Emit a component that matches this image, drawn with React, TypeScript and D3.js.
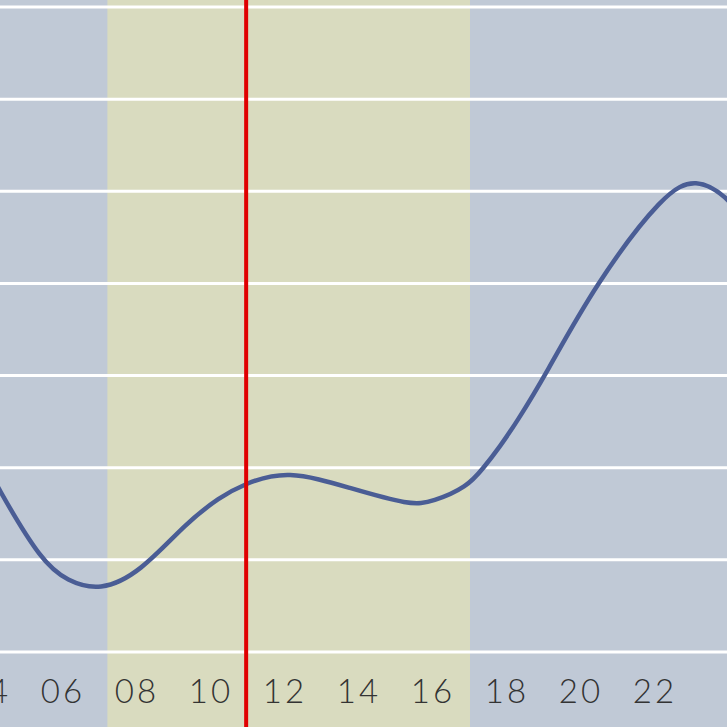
import React from "react";
import * as d3 from "d3";

const hours = [3.3, 4.3, 5.43, 6.11, 7.0, 8.08, 9.35, 10.24, 10.87, 12.05, 13.76, 15.38, 16.0, 16.92, 17.35, 17.81, 18.27, 19.03, 20.38, 22.27, 23.11, 23.95, 25.0];
const tide = [2.5, 1.73, 0.98, 0.77, 0.66, 0.86, 1.41, 1.68, 1.82, 1.98, 1.78, 1.59, 1.63, 1.79, 1.99, 2.23, 2.5, 3.0, 3.99, 5.0, 5.14, 4.96, 4.4];
const tickHours = [4, 6, 8, 10, 12, 14, 16, 18, 20, 22];
const tickLabels = ["04", "06", "08", "10", "12", "14", "16", "18", "20", "22"];
const gridValues = [0, 1, 2, 3, 4, 5, 6, 7];
const dayStart = 7.2;
const dayEnd = 17.0;
const nowHour = 10.95;

const W = 727;
const H = 727;

export default function App() {
  const x = d3.scaleLinear().domain([0, 24]).range([-159, 729]);
  const y = d3.scaleLinear().domain([0, 7]).range([652, 7]);
  const pts: [number, number][] = hours.map((h, i) => [h, tide[i]]);
  const line = d3
    .line<[number, number]>()
    .x((d) => x(d[0]))
    .y((d) => y(d[1]))
    .curve(d3.curveBasis);
  return (
    <svg
      width={W}
      height={H}
      style={{ position: "absolute", left: 0, top: 0 }}
    >
      <rect x={0} y={0} width={W} height={H} fill="#c0c9d6" />
      <rect
        x={x(dayStart)}
        y={0}
        width={x(dayEnd) - x(dayStart)}
        height={H}
        fill="#d9dbbf"
      />
      {gridValues.map((g) => (
        <line
          key={g}
          x1={0}
          x2={W}
          y1={y(g)}
          y2={y(g)}
          stroke="#ffffff"
          strokeWidth={3}
        />
      ))}
      <path
        d={line(pts) || ""}
        fill="none"
        stroke="#4a5d95"
        strokeWidth={4.5}
      />
      <line
        x1={x(nowHour)}
        x2={x(nowHour)}
        y1={0}
        y2={H}
        stroke="#e00000"
        strokeWidth={4}
      />
      {tickHours.map((h, i) => (
        <text
          key={h}
          x={x(h)}
          y={703}
          textAnchor="middle"
          fontFamily="Lato, 'DejaVu Sans', sans-serif"
          fontWeight={300}
          fontSize={33}
          letterSpacing={3}
          fill="#333333"
        >
          {tickLabels[i]}
        </text>
      ))}
    </svg>
  );
}
